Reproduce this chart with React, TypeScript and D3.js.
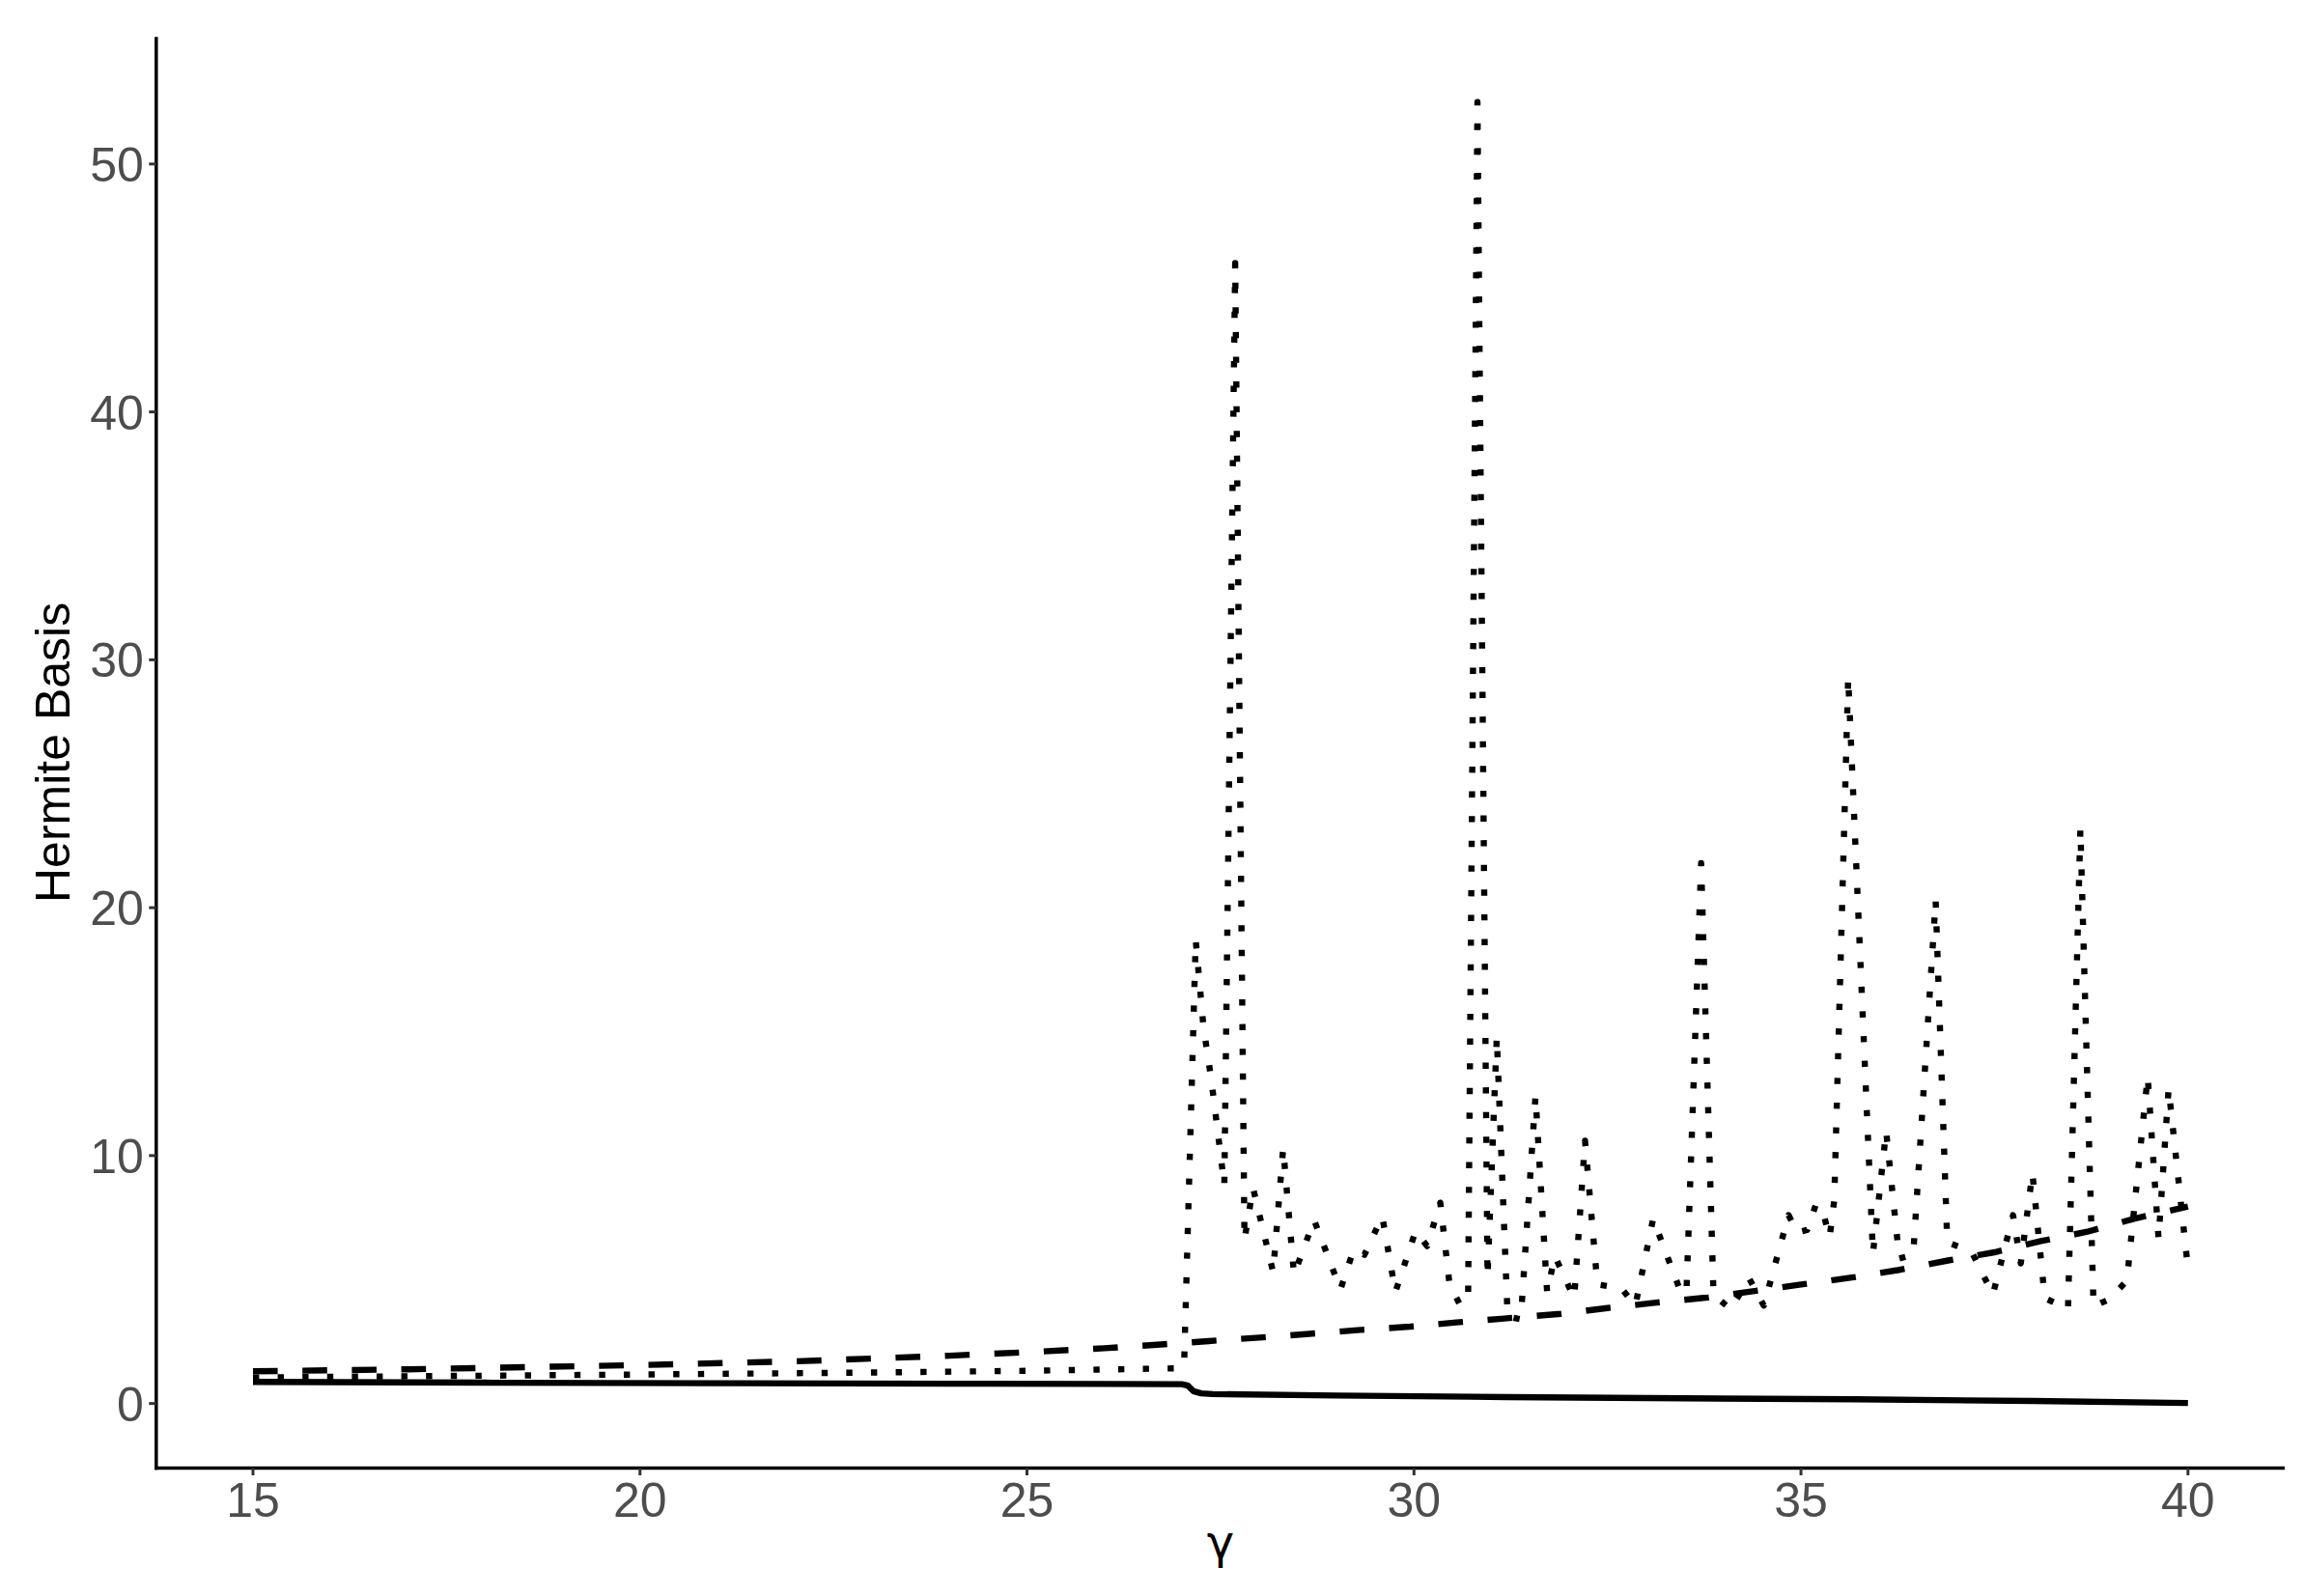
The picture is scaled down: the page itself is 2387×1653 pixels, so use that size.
import React from 'react';
import * as d3 from 'd3';

// ---- data ----
const xTicks = [15, 20, 25, 30, 35, 40];
const yTicks = [0, 10, 20, 30, 40, 50];

const solidX = [15, 18, 21, 24, 26, 27.0, 27.08, 27.15, 27.25, 27.4, 29, 31.2, 33.5, 35.7, 38, 40];
const solidY = [0.87, 0.84, 0.82, 0.8, 0.79, 0.78, 0.72, 0.5, 0.41, 0.38, 0.32, 0.26, 0.21, 0.17, 0.1, 0.02];

const dashedX = [15, 17, 20, 22, 24, 25, 26, 26.73, 27.35, 28.05, 28.65, 29.27, 29.95, 30.55, 31.13, 31.9, 32.5, 33.1, 33.8, 34.4, 35.0, 35.7, 36.25, 36.9, 37.5, 38.1, 38.7, 39.3, 40];
const dashedY = [1.3, 1.38, 1.55, 1.7, 1.93, 2.07, 2.23, 2.38, 2.52, 2.67, 2.81, 2.96, 3.1, 3.27, 3.42, 3.62, 3.85, 4.06, 4.28, 4.54, 4.8, 5.1, 5.38, 5.77, 6.1, 6.55, 6.93, 7.45, 7.95];

const dottedX = [15, 17, 20, 23, 25, 26.94, 27.03, 27.18, 27.28, 27.38, 27.55, 27.69, 27.81, 27.92, 28.18, 28.31, 28.45, 28.71, 29.05, 29.22, 29.36, 29.59, 29.76, 30.02, 30.17, 30.34, 30.46, 30.6, 30.7, 30.82, 30.95, 31.07, 31.21, 31.38, 31.57, 31.72, 31.82, 32.07, 32.21, 32.37, 32.68, 32.86, 33.09, 33.44, 33.52, 33.71, 33.87, 34.09, 34.33, 34.52, 34.84, 34.95, 35.08, 35.19, 35.27, 35.37, 35.43, 35.61, 35.93, 36.1, 36.27, 36.45, 36.74, 36.89, 37.2, 37.48, 37.74, 37.84, 37.99, 38.15, 38.45, 38.61, 38.78, 38.98, 39.21, 39.48, 39.62, 39.75, 40];
const dottedY = [1.05, 1.1, 1.17, 1.25, 1.32, 1.42, 1.55, 18.7, 15.2, 13.1, 8.8, 46.0, 6.6, 8.7, 5.3, 10.3, 5.2, 7.4, 4.6, 6.2, 6.0, 7.55, 4.5, 6.95, 6.35, 8.1, 4.8, 3.95, 4.5, 52.5, 5.1, 14.8, 3.5, 3.4, 12.4, 4.5, 5.95, 4.25, 10.6, 4.8, 4.65, 3.95, 7.45, 4.55, 4.45, 21.8, 4.4, 3.8, 5.05, 3.95, 7.6, 6.9, 7.0, 8.0, 7.9, 6.7, 8.2, 29.3, 6.05, 11.0, 5.85, 6.0, 20.3, 6.5, 6.15, 4.4, 7.6, 5.65, 9.3, 4.25, 3.82, 23.2, 3.92, 4.2, 4.95, 13.2, 6.65, 12.7, 5.45];

const xTitle = 'γ';
const yTitle = 'Hermite Basis';

type Pt = [number, number];
const zip = (xs: number[], ys: number[]): Pt[] => xs.map((v, i) => [v, ys[i]] as Pt);

function expand(ext: [number, number], mult = 0.05): [number, number] {
  const r = ext[1] - ext[0];
  return [ext[0] - r * mult, ext[1] + r * mult];
}

export default function App() {
  const W = 2387;
  const H = 1653;
  const left = 161.8, right = 2366, top = 38.3, bottom = 1520.5;
  const lw = 6.4;

  const allX = [...solidX, ...dashedX, ...dottedX];
  const allY = [...solidY, ...dashedY, ...dottedY];
  const x = d3.scaleLinear().domain(expand(d3.extent(allX) as [number, number])).range([left, right]);
  const y = d3.scaleLinear().domain(expand(d3.extent(allY) as [number, number])).range([bottom, top]);

  const line = d3.line<Pt>().x(d => x(d[0])).y(d => y(d[1]));

  const font = '"Liberation Sans", Arial, Helvetica, sans-serif';

  return (
    <svg width={W} height={H} style={{ position: 'absolute', left: 0, top: 0, background: '#fff' }}>
      <rect x={0} y={0} width={W} height={H} fill="#fff" />
      {/* series */}
      <path d={line(zip(solidX, solidY)) || ''} fill="none" stroke="#000" strokeWidth={lw} strokeLinejoin="round" strokeLinecap="butt" />
      <path d={line(zip(dashedX, dashedY)) || ''} fill="none" stroke="#000" strokeWidth={lw} strokeLinejoin="round" strokeLinecap="butt" strokeDasharray={`${4 * lw} ${4 * lw}`} />
      <path d={line(zip(dottedX, dottedY)) || ''} fill="none" stroke="#000" strokeWidth={lw} strokeLinejoin="round" strokeLinecap="butt" strokeDasharray={`${lw} ${3 * lw}`} />

      {/* axes */}
      <line x1={left} x2={left} y1={top} y2={bottom + 1.75} stroke="#000" strokeWidth={3.5} />
      <line x1={left - 1.75} x2={right} y1={bottom} y2={bottom} stroke="#000" strokeWidth={3.5} />
      {yTicks.map(t => (
        <g key={'y' + t}>
          <line x1={left - 7.5} x2={left} y1={y(t)} y2={y(t)} stroke="#333" strokeWidth={3} />
          <text x={left - 13} y={y(t)} dy="0.36em" textAnchor="end" fontFamily={font} fontSize={50} fill="#4D4D4D">{t}</text>
        </g>
      ))}
      {xTicks.map(t => (
        <g key={'x' + t}>
          <line x1={x(t)} x2={x(t)} y1={bottom} y2={bottom + 7.5} stroke="#333" strokeWidth={3} />
          <text x={x(t)} y={bottom + 50} textAnchor="middle" fontFamily={font} fontSize={50} fill="#4D4D4D">{t}</text>
        </g>
      ))}
      <text x={(left + right) / 2} y={bottom + 93.5} textAnchor="middle" fontFamily={'"DejaVu Sans", sans-serif'} fontSize={48} fill="#000">{xTitle}</text>
      <text transform={`translate(71.7, ${(top + bottom) / 2}) rotate(-90)`} textAnchor="middle" fontFamily={font} fontSize={50} fill="#000">{yTitle}</text>
    </svg>
  );
}
